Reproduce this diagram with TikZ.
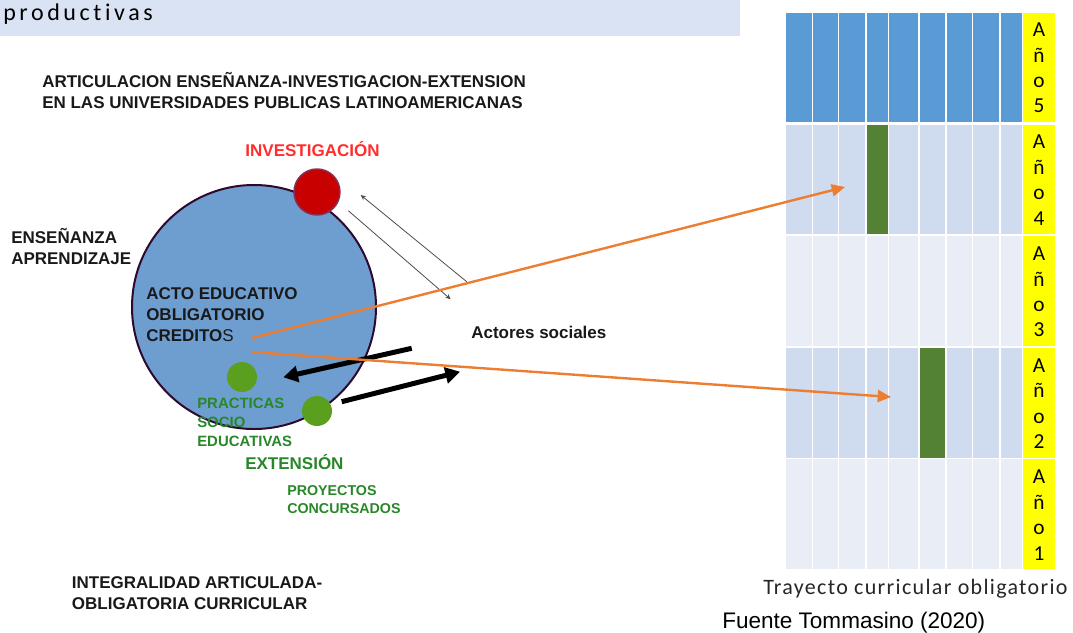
\documentclass[tikz,border=0pt]{standalone}
\usepackage{fontspec}
\setmainfont{Liberation Sans}
\newfontfamily\calibrifont{Carlito}
\newfontfamily\bannerfont[LetterSpace=15, Ligatures=NoCommon]{Carlito}
\newfontfamily\captionfont[LetterSpace=6, Ligatures=NoCommon]{Carlito}
\usetikzlibrary{arrows.meta}
\definecolor{bannerblue}{RGB}{218,227,243}
\definecolor{bigblue}{RGB}{110,157,208}
\definecolor{circborder}{RGB}{45,10,45}
\definecolor{invred}{RGB}{200,0,0}
\definecolor{invborder}{RGB}{130,50,90}
\definecolor{invtext}{RGB}{255,45,45}
\definecolor{extgreen}{RGB}{90,160,30}
\definecolor{textgreen}{RGB}{40,135,40}
\definecolor{textdark}{RGB}{25,25,25}
\definecolor{linkorange}{RGB}{237,125,49}
\definecolor{gridblue}{RGB}{91,155,213}
\definecolor{bandA}{RGB}{207,219,238}
\definecolor{bandB}{RGB}{233,238,246}
\definecolor{bargreen}{RGB}{84,130,53}
\definecolor{yearyellow}{RGB}{255,255,0}
\begin{document}
\begin{tikzpicture}[x=0.75pt,y=-0.75pt,
  label/.style={inner sep=0pt, align=left, text=textdark, font=\bfseries\fontsize{12.75}{15.75}\selectfont},
  smalllabel/.style={inner sep=0pt, align=left, text=textgreen, font=\bfseries\fontsize{11.2}{14.25}\selectfont},
  dot/.style={circle, inner sep=0pt, minimum size=22.5pt, fill=extgreen},
  year/.style={inner sep=0pt, align=center, font=\calibrifont\fontsize{16}{19.1}\selectfont},
  link/.style={draw=linkorange, line width=1.8pt, -{Triangle[length=10pt,width=9pt]}},
  push/.style={draw=black, line width=3.75pt, -{Triangle[length=11pt,width=12pt]}},
  flow/.style={draw=black!70, line width=0.6pt, -{Stealth[length=4pt,width=3.5pt]}}
]
\useasboundingbox (0,0) rectangle (1073,632);
\fill[bannerblue] (0,0) rectangle (740,36);
\node[anchor=base west, inner sep=0pt, font=\bannerfont\fontsize{18}{20}\selectfont] (banner) at (3,20) {productivas};

\foreach \ya/\yb/\rowcol/\n in {12.5/121.5/gridblue/5, 124.5/234/bandA/4, 236/346/bandB/3, 347.5/457.5/bandA/2, 459/569/bandB/1} {
  \fill[\rowcol] (786,\ya) rectangle (1022.7,\yb);
  \fill[yearyellow] (1022.7,\ya) rectangle (1055,\yb);
  \node[year] (year\n) at (1039,{(\ya+\yb)/2+1}) {A\\ñ\\o\\\n};
}
\fill[bargreen] (866,124.5) rectangle (888.7,234);
\fill[bargreen] (919,347.5) rectangle (946,457.5);
\foreach \cx in {812.3,838.7,866,888.7,919,946,972.3,1000,1022.7}
  \draw[white, line width=1.1pt] (\cx,12.5) -- (\cx,569);
\node[anchor=base west, inner sep=0pt, font=\captionfont\fontsize{16.5}{18}\selectfont, text=black!85] (trayecto) at (763,594) {Trayecto curricular obligatorio};
\node[anchor=base west, inner sep=0pt, font=\fontsize{16.9}{19}\selectfont] (fuente) at (722,628) {Fuente Tommasino (2020)};

\node[circle, draw=circborder, line width=1.5pt, fill=bigblue, inner sep=0pt, minimum size=183pt] (acto) at (254,307) {};
\node[circle, draw=invborder, line width=1.1pt, fill=invred, inner sep=0pt, minimum size=34.5pt] (inv) at (317,192) {};
\node[dot] (practdot) at (242,377) {};
\node[dot] (proydot) at (317,411) {};

\node[label, anchor=north west] (titulo) at (42,72.4) {ARTICULACION ENSEÑANZA-INVESTIGACION-EXTENSION\\EN LAS UNIVERSIDADES PUBLICAS LATINOAMERICANAS};
\node[label, text=invtext, anchor=base] (investigacion) at (312.5,156) {INVESTIGACIÓN};
\node[label, anchor=north west] (ensenanza) at (11,228.4) {ENSEÑANZA\\APRENDIZAJE};
\node[label, anchor=north west] (actotext) at (146,287.8) {ACTO EDUCATIVO\\OBLIGATORIO\\CREDITO{\mdseries S}};
\node[label, anchor=base west] (actores) at (471,338) {Actores sociales};
\node[smalllabel, anchor=north west] (practicas) at (197,397.3) {PRACTICAS\\SOCIO\\EDUCATIVAS};
\node[label, text=textgreen, anchor=base west] (extension) at (245,469) {EXTENSIÓN};
\node[smalllabel, anchor=north west, font=\bfseries\fontsize{10.7}{13.7}\selectfont] (proyectos) at (287,484.8) {PROYECTOS\\CONCURSADOS};
\node[label, anchor=north west] (integralidad) at (71.7,576.3) {INTEGRALIDAD ARTICULADA-\\OBLIGATORIA CURRICULAR};

\coordinate (upfrom) at (466.7,281.7);
\coordinate (upto) at (360.7,195);
\coordinate (downfrom) at (348.3,210.7);
\coordinate (downto) at (450.7,299.3);
\draw[flow] (upfrom) -- (upto);
\draw[flow] (downfrom) -- (downto);

\coordinate (intail) at (411.7,348.3);
\coordinate (inhead) at (283.3,377.3);
\coordinate (outtail) at (341.7,401.7);
\coordinate (outhead) at (460,371.7);
\draw[push] (intail) -- (inhead);
\draw[push] (outtail) -- (outhead);

\coordinate (credA) at (252,338);
\coordinate (credB) at (252,352);
\coordinate (cellfour) at (845,187);
\coordinate (celltwo) at (891,397);
\draw[link] (credA) -- (cellfour);
\draw[link] (credB) -- (celltwo);
\end{tikzpicture}
\end{document}
